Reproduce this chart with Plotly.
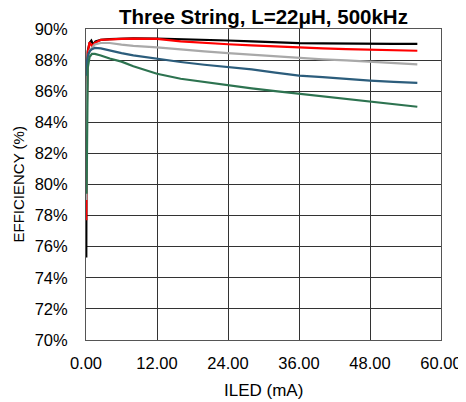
import plotly.graph_objects as go

# ILED (mA) / efficiency (%) per curve
black_x = [0.05, 0.1, 0.3, 0.6, 0.9, 1.2, 1.6, 2.5, 4, 6, 8, 12, 16, 20, 24, 28, 32, 36, 40, 44, 48, 52, 56]
black_y = [75.3, 85.0, 88.6, 89.1, 89.25, 89.0, 89.2, 89.3, 89.35, 89.38, 89.4, 89.38, 89.35, 89.3, 89.26, 89.2, 89.14, 89.09, 89.07, 89.05, 89.05, 89.04, 89.04]

red_x = [0.05, 0.1, 0.3, 0.6, 1.0, 1.5, 2.5, 4, 6, 8, 12, 16, 20, 24, 28, 32, 36, 40, 44, 48, 52, 56]
red_y = [77.7, 84.0, 88.5, 89.15, 88.9, 89.1, 89.3, 89.35, 89.37, 89.38, 89.36, 89.2, 89.1, 89.02, 88.95, 88.88, 88.8, 88.75, 88.71, 88.68, 88.64, 88.6]

gray_x = [0.05, 0.1, 0.3, 0.6, 1.0, 1.5, 2.5, 4, 6, 8, 12, 16, 20, 24, 28, 32, 36, 40, 44, 48, 52, 56]
gray_y = [79.0, 85.0, 88.0, 88.6, 88.8, 89.0, 89.1, 89.1, 89.0, 88.92, 88.82, 88.68, 88.56, 88.45, 88.35, 88.22, 88.12, 88.05, 87.98, 87.9, 87.8, 87.73]

blue_x = [0.1, 0.2, 0.4, 0.7, 1.0, 1.5, 2.5, 4, 6, 8, 12, 16, 20, 24, 28, 32, 36, 40, 44, 48, 52, 56]
blue_y = [87.0, 88.0, 88.4, 88.6, 88.7, 88.78, 88.75, 88.6, 88.45, 88.3, 88.08, 87.88, 87.7, 87.55, 87.4, 87.2, 87.0, 86.9, 86.78, 86.68, 86.6, 86.53]

green_x = [0.1, 0.15, 0.3, 0.6, 1.0, 1.5, 2.5, 4, 6, 8, 12, 16, 20, 24, 28, 32, 36, 40, 44, 48, 52, 56]
green_y = [79.4, 84.0, 87.5, 88.2, 88.4, 88.4, 88.3, 88.1, 87.9, 87.6, 87.12, 86.8, 86.58, 86.38, 86.18, 86.0, 85.83, 85.65, 85.48, 85.32, 85.15, 85.0]

y_ticks = [70, 72, 74, 76, 78, 80, 82, 84, 86, 88, 90]
y_labels = ["70%", "72%", "74%", "76%", "78%", "80%", "82%", "84%", "86%", "88%", "90%"]
x_ticks = [0, 12, 24, 36, 48, 60]
x_labels = ["0.00", "12.00", "24.00", "36.00", "48.00", "60.00"]

series = [
    (black_x, black_y, "#000000"),
    (red_x, red_y, "#FF0000"),
    (gray_x, gray_y, "#A9A9A9"),
    (blue_x, blue_y, "#2C5D7C"),
    (green_x, green_y, "#2D7350"),
]

fig = go.Figure()
for xs, ys, color in series:
    fig.add_trace(go.Scatter(x=xs, y=ys, mode="lines",
                             line=dict(color=color, width=2.2),
                             showlegend=False))

# the page body keeps an 8px margin, so the figure is sized 8px smaller
font = "Liberation Sans, Arial, sans-serif"
fig.update_layout(
    width=458, height=394,
    margin=dict(l=78, r=25, t=21, b=62, autoexpand=False),
    paper_bgcolor="white", plot_bgcolor="white",
    font=dict(family=font, size=16.5, color="#000000"),
    title=dict(text="<b>Three String, L=22μH, 500kHz</b>",
               x=(78 + 433) / 2 / 458, xanchor="center",
               y=1 - 8.5 / 394, yanchor="middle",
               font=dict(size=20.5, family=font, color="#000000")),
    xaxis=dict(range=[0, 60], tickvals=x_ticks, ticktext=x_labels,
               showgrid=True, gridcolor="#333333", gridwidth=1,
               showline=True, linecolor="#555555", linewidth=1, mirror=True,
               zeroline=False, ticks="outside", ticklen=8, tickcolor="rgba(0,0,0,0)",
               tickfont=dict(size=16.5), automargin=False),
    yaxis=dict(range=[70, 90], tickvals=y_ticks, ticktext=y_labels,
               showgrid=True, gridcolor="#333333", gridwidth=1,
               showline=True, linecolor="#555555", linewidth=1, mirror=True,
               zeroline=False, ticks="outside", ticklen=14, tickcolor="rgba(0,0,0,0)",
               tickfont=dict(size=16.5), automargin=False),
    annotations=[
        dict(text="ILED (mA)", xref="paper", yref="paper",
             x=0.5, y=-50 / 311, xanchor="center", yanchor="middle",
             showarrow=False, font=dict(size=17)),
        dict(text="EFFICIENCY (%)", xref="paper", yref="paper",
             x=-68 / 355, y=0.5, xanchor="center", yanchor="middle",
             textangle=-90, showarrow=False, font=dict(size=15)),
    ],
)

fig.write_html("out.html")
